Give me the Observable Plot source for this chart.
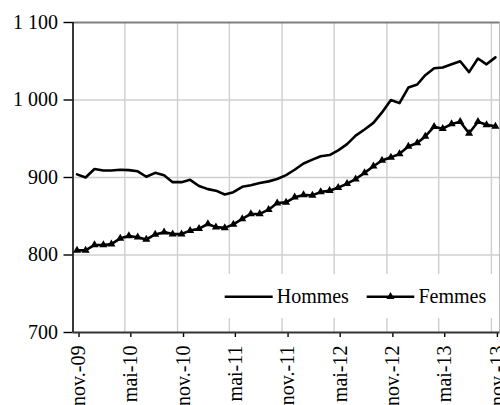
<!DOCTYPE html>
<html>
<head>
<meta charset="utf-8">
<script src="https://cdn.jsdelivr.net/npm/d3@7"></script>
<script src="https://cdn.jsdelivr.net/npm/@observablehq/plot@0.6"></script>
<style>
  body { margin: 0; background: #fff; }
  #wrap { position: relative; width: 500px; height: 405px; }
  #legend { position: absolute; left: 222px; top: 274px; width: 275px; height: 44px; background: #fff; }
  text { font-family: "Liberation Serif", "Times New Roman", serif; }
</style>
</head>
<body>
<div id="wrap"></div>
<script>
// Monthly series, nov. 2009 -> nov. 2013
const startYear = 2009, startMonth = 10; // November (0-based)
const hommes = [904, 900, 911, 909, 909, 910, 909.5, 908, 901, 906, 903, 894, 894, 897, 889, 885, 883, 878, 881, 888,
  890, 893, 895, 898, 903, 910, 918, 923, 927.5, 929, 935, 943, 954, 962, 970.5, 984, 1000, 996, 1016, 1020,
  1032, 1041, 1042, 1046, 1050, 1036, 1053.5, 1046, 1055];
const femmes = [806, 806, 813, 813, 814, 821.5, 824.5, 823, 820, 826.5, 829.5, 827, 827, 831.5, 834, 840, 836, 835, 839.5, 846.5,
  853, 853, 858.5, 867, 868, 874.5, 877.5, 877, 881.5, 883, 887, 892, 898, 906, 914.5, 922, 926, 930.5, 940, 944.5,
  953, 965.5, 963, 969, 972, 957, 972, 968, 966];
const tickLabels = ["nov.-09", "mai-10", "nov.-10", "mai-11", "nov.-11", "mai-12", "nov.-12", "mai-13", "nov.-13"];
const yTicks = [700, 800, 900, 1000, 1100];
const seriesNames = ["Hommes", "Femmes"];

const dateOf = (i, day) => new Date(Date.UTC(startYear, startMonth + i, day));
const rowsH = hommes.map((v, i) => ({date: dateOf(i, 15), value: v}));
const rowsF = femmes.map((v, i) => ({date: dateOf(i, 15), value: v}));
const xTicks = tickLabels.map((_, k) => dateOf(6 * k, 1));
const labelOf = new Map(xTicks.map((d, k) => [+d, tickLabels[k]]));
const xDomain = [dateOf(0, 1), dateOf(hommes.length, 1)];

const font = '"Liberation Serif", "Times New Roman", serif';
const fs = 20;

const chart = Plot.plot({
  width: 500,
  height: 405,
  marginTop: 22,
  marginBottom: 73,
  marginLeft: 72.5,
  marginRight: 0.5,
  style: {fontFamily: font, fontSize: fs + "px", background: "#fff", color: "#000"},
  x: {type: "utc", domain: xDomain},
  y: {domain: [700, 1100]},
  marks: [
    Plot.gridX(xTicks, {stroke: "#cfcfcf", strokeOpacity: 1, strokeWidth: 1.4}),
    Plot.gridY([800, 900, 1000], {stroke: "#cfcfcf", strokeOpacity: 1, strokeWidth: 1.4}),
    Plot.ruleY([1100], {stroke: "#808080", strokeWidth: 2}),
    Plot.ruleX([xDomain[1]], {stroke: "#a0a0a0", strokeWidth: 1.4}),
    Plot.axisY(yTicks, {
      tickSize: 9, tickPadding: 6, strokeWidth: 1.4,
      tickFormat: d => d3.format(",")(d).replace(",", " "),
      fontSize: fs, fontFamily: font, label: null
    }),
    Plot.axisX(xTicks, {
      tickSize: 5, tickPadding: 8, tickRotate: -90, strokeWidth: 1.4,
      tickFormat: d => labelOf.get(+d), dx: 6,
      fontSize: fs, fontFamily: font, label: null
    }),
    Plot.ruleX([xDomain[0]], {stroke: "#000", strokeWidth: 1.5}),
    Plot.ruleY([700], {stroke: "#333", strokeWidth: 2}),
    Plot.line(rowsH, {x: "date", y: "value", stroke: "#000", strokeWidth: 2.6}),
    Plot.line(rowsF, {x: "date", y: "value", stroke: "#000", strokeWidth: 2.6}),
    Plot.dot(rowsF, {x: "date", y: "value", symbol: "triangle", r: 3, fill: "#000", stroke: "none"})
  ]
});

const wrap = document.getElementById("wrap");
wrap.appendChild(chart);

// Legend (inside plot area, bottom right)
const legend = document.createElement("div");
legend.id = "legend";
const ns = "http://www.w3.org/2000/svg";
const ls = document.createElementNS(ns, "svg");
ls.setAttribute("width", 275);
ls.setAttribute("height", 44);
const items = [
  {name: seriesNames[0], x0: 2.7, x1: 50.7, tx: 54.7, marker: false},
  {name: seriesNames[1], x0: 144.7, x1: 192.3, tx: 196.5, marker: true}
];
for (const it of items) {
  const line = document.createElementNS(ns, "line");
  line.setAttribute("x1", it.x0); line.setAttribute("x2", it.x1);
  line.setAttribute("y1", 22.7); line.setAttribute("y2", 22.7);
  line.setAttribute("stroke", "#000"); line.setAttribute("stroke-width", 2.6);
  ls.appendChild(line);
  if (it.marker) {
    const p = document.createElementNS(ns, "path");
    p.setAttribute("d", d3.symbol(d3.symbolTriangle, Math.PI * 3 * 3)());
    p.setAttribute("transform", `translate(${(it.x0 + it.x1) / 2},22.7)`);
    p.setAttribute("fill", "#000");
    ls.appendChild(p);
  }
  const t = document.createElementNS(ns, "text");
  t.setAttribute("x", it.tx); t.setAttribute("y", 29.3);
  t.setAttribute("font-size", fs);
  t.textContent = it.name;
  ls.appendChild(t);
}
legend.appendChild(ls);
wrap.appendChild(legend);
</script>
</body>
</html>
